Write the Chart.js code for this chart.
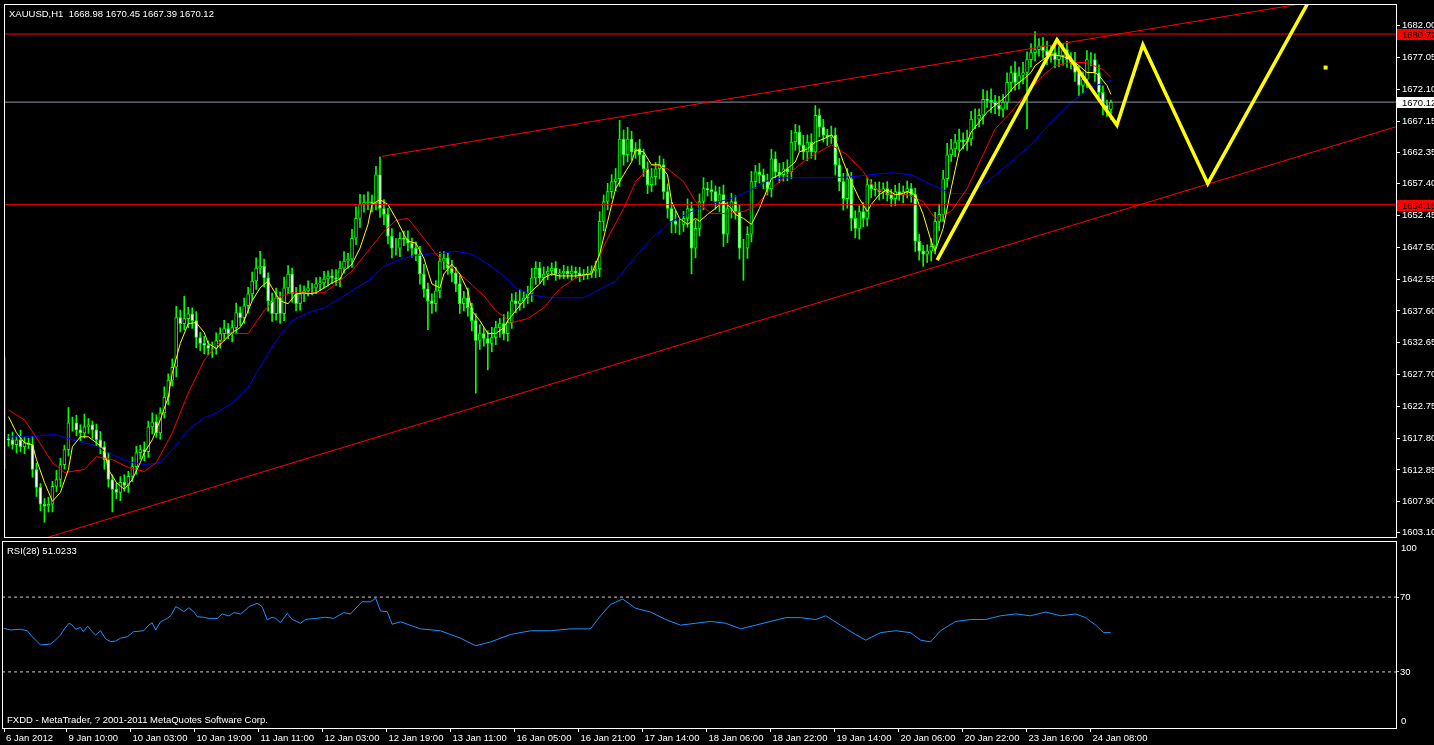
<!DOCTYPE html>
<html>
<head>
<meta charset="utf-8">
<script src="https://cdn.jsdelivr.net/npm/chart.js@4.4.0/dist/chart.umd.min.js"></script>
<style>
html, body { margin: 0; padding: 0; background: #000; overflow: hidden; }
#wrap { position: relative; width: 1434px; height: 745px; }
#priceBox { position: absolute; left: 0; top: 0; width: 1434px; height: 541px; }
#rsiBox { position: absolute; left: 0; top: 541px; width: 1434px; height: 204px; }
</style>
</head>
<body>
<div id="wrap">
  <div id="priceBox"><canvas id="priceChart"></canvas></div>
  <div id="rsiBox"><canvas id="rsiChart"></canvas></div>
</div>
<script>
// XAUUSD H1 - closes per bar, first entry is bar -1 (cut at the left edge)
const firstBar = -1;
const closes = [1617.60,
  1617.54,1616.77,1617.54,1616.46,1617.08,1616.77,1612.91,1610.12,1607.50,1607.19,
  1607.50,1610.28,1611.36,1613.68,1616.00,1620.17,1620.17,1619.09,1618.62,1619.55,
  1619.86,1619.09,1617.54,1616.46,1614.45,1611.36,1609.82,1609.35,1610.90,1610.43,
  1611.83,1613.37,1615.53,1616.00,1615.69,1619.55,1620.33,1618.62,1621.72,1624.19,
  1626.82,1628.83,1636.55,1635.63,1636.40,1637.17,1636.09,1633.46,1632.54,1632.23,
  1631.76,1631.76,1633.00,1634.08,1634.85,1634.08,1635.01,1637.33,1636.55,1638.41,
  1640.26,1642.27,1644.28,1644.59,1642.74,1639.18,1637.17,1639.65,1637.17,1641.19,
  1643.36,1640.26,1638.72,1640.26,1640.73,1641.19,1641.19,1641.81,1641.96,1642.58,
  1643.05,1642.74,1642.58,1644.28,1645.36,1645.67,1648.92,1652.01,1654.17,1654.48,
  1654.64,1654.33,1658.81,1653.56,1652.63,1649.23,1647.37,1647.37,1648.92,1648.77,
  1648.15,1647.37,1646.45,1643.36,1641.04,1639.18,1638.72,1640.73,1645.36,1645.83,
  1644.28,1643.51,1641.81,1638.72,1639.65,1638.10,1636.09,1633.00,1634.08,1633.31,
  1632.54,1633.46,1635.01,1635.63,1634.08,1635.78,1639.18,1638.72,1639.18,1639.65,
  1640.26,1642.74,1644.28,1642.74,1643.36,1643.82,1644.28,1643.36,1643.51,1643.82,
  1643.36,1643.82,1643.51,1643.05,1643.36,1643.51,1643.82,1644.13,1651.55,1654.64,
  1656.18,1657.73,1658.19,1664.38,1661.90,1664.38,1662.37,1662.83,1661.90,1659.74,
  1657.27,1658.50,1659.74,1660.36,1656.18,1653.56,1651.55,1651.08,1651.08,1652.01,
  1653.56,1647.37,1650.47,1654.64,1656.65,1656.49,1656.18,1654.64,1655.72,1649.54,
  1653.56,1654.64,1653.09,1647.37,1647.37,1649.54,1657.73,1659.27,1658.81,1657.73,
  1656.65,1661.28,1659.27,1658.81,1659.74,1659.27,1663.91,1665.46,1663.45,1662.37,
  1663.91,1662.37,1668.08,1666.23,1664.99,1664.68,1664.99,1660.36,1657.73,1655.10,
  1658.19,1652.01,1650.47,1653.09,1652.01,1657.27,1656.65,1656.49,1656.18,1656.65,
  1655.72,1655.10,1656.18,1655.72,1656.18,1656.65,1655.72,1648.46,1646.91,1646.45,
  1646.91,1647.68,1651.55,1652.63,1658.19,1661.90,1662.83,1663.91,1664.22,1663.91,
  1664.38,1667.47,1667.47,1668.08,1670.56,1670.40,1670.09,1669.63,1669.01,1670.09,
  1673.19,1674.73,1673.19,1674.27,1674.73,1676.74,1677.82,1678.29,1678.90,1678.13,
  1677.36,1677.82,1676.74,1677.36,1678.29,1676.74,1676.28,1674.73,1672.72,1673.65,
  1676.74,1676.74,1674.73,1671.64,1669.63,1668.98,1670.12];

// wick length above / below the body
const wickUp = [12.8,
  0.8,1.2,0.6,1.5,0.9,0.7,1.3,1.0,0.6,0.9,
  1.1,0.8,1.4,1.0,0.7,2.4,0.9,1.2,0.8,2.0,
  1.0,0.6,0.9,1.3,0.8,1.1,0.7,1.0,0.9,1.2,
  0.8,1.5,1.0,0.7,1.2,0.9,1.4,1.1,0.8,1.6,
  1.0,1.3,1.8,1.2,3.5,1.0,0.9,1.4,0.8,1.1,
  0.7,1.0,1.2,0.9,1.3,0.8,1.1,1.5,0.9,1.2,
  1.0,1.4,1.6,2.3,1.1,0.8,1.2,1.5,0.9,1.7,
  1.3,0.9,1.0,1.4,0.8,1.1,0.7,1.0,0.9,1.2,
  0.8,1.0,1.3,1.1,1.5,0.9,1.4,1.8,1.6,1.2,
  1.5,1.0,1.3,2.8,1.4,1.0,1.2,1.5,0.9,1.1,
  1.3,0.8,1.0,1.2,1.5,0.9,1.1,1.6,1.4,1.0,
  0.8,1.2,0.9,1.3,1.0,1.5,0.7,1.1,1.4,0.9,
  1.2,1.6,1.0,0.8,1.4,1.7,1.1,1.3,1.8,1.0,
  1.2,1.5,1.0,0.9,1.1,0.7,0.8,1.0,0.6,0.9,
  0.7,0.8,0.6,0.9,0.7,1.0,0.8,1.2,1.5,1.0,
  1.3,1.1,1.6,2.9,1.4,1.8,1.2,1.0,1.5,0.9,
  1.1,1.3,1.0,1.4,0.9,1.2,1.0,1.6,0.8,1.1,
  1.5,1.0,1.3,1.2,1.7,1.0,1.4,0.9,1.2,1.5,
  1.0,1.3,0.9,1.1,1.4,1.2,1.6,1.0,1.3,0.9,
  1.2,1.5,1.1,1.3,1.0,1.4,1.8,1.2,1.0,1.5,
  1.1,1.3,1.5,1.0,1.2,0.9,1.4,1.1,1.0,1.3,
  1.6,1.0,1.2,0.9,1.4,1.1,0.8,1.0,1.2,0.9,
  1.1,0.8,1.0,1.3,0.9,1.2,0.8,1.0,1.1,0.9,
  1.0,1.2,1.4,1.6,1.3,1.8,1.5,1.2,1.7,1.1,
  1.4,1.2,1.6,1.0,1.5,1.3,1.8,1.1,1.4,1.2,
  1.5,1.0,1.7,1.3,1.6,1.2,1.4,2.8,1.1,1.3,
  1.5,1.0,1.2,1.4,0.9,1.3,1.1,1.6,1.0,1.2,
  1.4,1.1,0.9,1.2,1.0,0.8,0.33];
const wickDown = [4.6,
  1.0,0.7,1.3,0.8,1.1,0.6,1.2,1.4,1.0,2.5,
  0.9,1.2,0.8,1.1,0.7,1.0,1.3,0.9,1.2,0.8,
  1.0,1.3,0.9,1.1,1.5,1.2,3.5,1.0,1.3,0.9,
  1.1,0.8,1.2,1.0,1.4,0.9,1.1,0.7,1.0,0.8,
  1.2,0.9,1.5,1.3,1.0,1.4,1.2,1.6,1.1,1.3,
  1.0,1.4,0.9,1.2,1.1,0.8,1.3,1.0,1.2,0.9,
  1.1,1.0,1.3,0.9,1.4,1.6,1.2,1.0,1.5,1.1,
  0.9,1.3,1.1,1.0,1.2,0.8,1.1,0.9,1.0,0.8,
  1.1,0.9,1.0,1.2,0.8,1.1,1.3,1.0,1.4,1.2,
  1.1,1.3,1.0,1.4,1.6,1.2,1.5,1.1,1.3,1.0,
  1.2,1.4,1.0,1.6,1.3,4.5,1.5,1.2,1.1,1.3,
  1.0,1.4,1.2,1.5,1.1,1.3,1.6,8.2,1.4,1.2,
  4.1,1.3,1.1,1.5,1.0,1.2,0.9,1.4,1.0,1.1,
  0.9,1.2,1.0,0.8,1.1,0.9,0.7,1.0,0.8,0.9,
  0.7,1.0,0.8,0.9,0.6,0.8,0.7,1.0,1.2,1.5,
  1.3,1.0,1.4,1.2,1.6,1.1,1.3,1.0,1.5,1.2,
  1.4,1.1,1.3,1.6,1.2,1.5,1.8,1.3,1.6,1.1,
  1.4,4.0,1.5,1.2,1.3,1.0,1.4,1.2,1.6,1.9,
  1.3,1.5,1.2,1.7,5.0,1.6,1.2,1.0,1.3,1.1,
  1.0,1.3,1.1,1.2,1.0,1.4,1.1,1.3,1.0,1.2,
  1.4,1.0,1.2,1.5,1.1,1.3,1.0,1.6,1.4,1.8,
  1.5,1.9,1.5,1.7,1.3,1.2,1.4,1.0,1.3,1.1,
  1.0,1.2,1.1,0.9,1.3,1.0,1.2,1.6,1.4,1.9,
  1.3,1.5,1.2,1.4,1.1,1.3,1.0,1.2,1.4,1.1,
  1.3,1.0,1.5,1.2,1.4,1.1,1.6,1.3,1.0,1.2,
  1.1,1.4,1.2,1.0,1.3,8.8,1.1,1.3,1.0,1.2,
  1.4,1.0,1.3,1.1,1.5,1.2,1.0,1.4,1.6,1.2,
  1.3,1.0,1.4,1.2,1.5,1.1,1.59];

// moving averages: [bar, price]
const fastMa = [[0,1621.15],[2,1618.62],[4,1617.08],[6,1616.77],[7,1614.45],[9,1610.90],[11,1607.96],[13,1609.35],[15,1612.91],[16,1616.46],
  [18,1618.01],[20,1618.01],[22,1617.08],[24,1616.00],[25,1612.91],[27,1610.90],[29,1609.82],[31,1611.36],[33,1613.99],[34,1615.53],
  [36,1617.54],[38,1620.64],[40,1624.19],[41,1627.90],[43,1632.54],[45,1635.63],[47,1635.78],[49,1634.24],[50,1632.54],[52,1631.76],
  [54,1633.00],[56,1634.24],[58,1635.01],[59,1636.09],[61,1639.18],[63,1641.19],[65,1642.27],[66,1641.19],[68,1639.18],[70,1638.72],
  [72,1640.26],[74,1640.42],[75,1640.26],[77,1640.42],[79,1641.19],[81,1641.96],[83,1642.58],[84,1643.82],[86,1644.90],[88,1647.37],
  [90,1651.08],[91,1654.17],[93,1654.95],[95,1654.17],[97,1652.01],[99,1649.54],[100,1648.46],[102,1648.15],[104,1645.83],[106,1641.81],
  [108,1641.19],[109,1643.36],[111,1644.90],[113,1643.36],[115,1640.73],[116,1637.64],[118,1636.09],[120,1634.08],[122,1634.08],[124,1635.01],
  [125,1636.09],[127,1637.64],[129,1639.18],[131,1640.73],[133,1641.81],[134,1642.74],[136,1643.36],[138,1643.05],[142,1643.05],[146,1643.36],
  [148,1646.45],[150,1651.55],[152,1656.65],[154,1658.81],[156,1660.82],[157,1662.68],[159,1662.37],[161,1660.36],[163,1660.36],[165,1658.81],
  [166,1654.64],[168,1652.01],[170,1651.08],[172,1652.01],[173,1651.55],[175,1652.63],[177,1653.56],[179,1654.64],[181,1653.56],[182,1652.63],
  [184,1652.01],[186,1651.08],[188,1653.56],[190,1656.65],[191,1658.19],[193,1658.81],[195,1659.74],[197,1660.82],[198,1662.37],[200,1662.83],
  [202,1663.91],[204,1664.38],[206,1664.99],[207,1664.38],[209,1660.82],[211,1657.73],[213,1655.10],[215,1653.09],[216,1654.17],[218,1655.72],
  [220,1656.49],[222,1655.72],[223,1655.72],[225,1656.18],[227,1655.72],[229,1652.63],[231,1648.46],[232,1646.91],[234,1650.47],[236,1656.65],
  [238,1662.37],[240,1663.91],[241,1665.46],[243,1667.00],[245,1668.55],[247,1669.63],[248,1670.09],[250,1671.18],[252,1672.72],[254,1673.65],
  [256,1674.73],[257,1675.81],[259,1676.74],[261,1677.51],[263,1677.36],[265,1677.05],[266,1676.74],[268,1675.81],[270,1674.73],[272,1674.73],
  [273,1674.27],[275,1672.72],[276,1671.33]];
const midMa = [[0,1622.18],[4,1620.64],[7,1617.85],[11,1614.00],[14,1612.44],[19,1612.91],[22,1614.92],[26,1614.45],[30,1613.22],[34,1612.60],
  [37,1613.99],[41,1618.62],[45,1624.81],[49,1629.91],[52,1632.23],[56,1634.08],[60,1634.08],[64,1637.64],[67,1639.65],[71,1640.42],
  [75,1640.42],[79,1640.42],[82,1641.81],[86,1643.82],[90,1646.91],[94,1650.00],[97,1651.70],[100,1652.01],[104,1648.92],[107,1646.45],
  [111,1644.28],[115,1642.27],[119,1639.96],[122,1637.64],[126,1635.78],[130,1636.40],[134,1638.10],[138,1641.04],[142,1642.74],[146,1643.51],
  [150,1648.92],[154,1653.56],[157,1657.73],[161,1660.36],[165,1659.74],[169,1657.73],[172,1654.64],[176,1652.79],[180,1652.79],[184,1653.09],
  [187,1653.87],[191,1656.65],[195,1658.81],[199,1660.82],[202,1662.06],[206,1663.45],[210,1661.90],[214,1659.27],[217,1656.65],[221,1655.72],
  [225,1655.72],[229,1654.64],[232,1652.01],[236,1653.09],[240,1656.65],[244,1661.90],[247,1665.92],[251,1668.55],[255,1671.64],[259,1674.27],
  [262,1675.81],[266,1676.28],[270,1676.28],[274,1675.20],[276,1673.96]];
const slowMa = [[0,1618.01],[6,1618.01],[10,1618.32],[12,1618.32],[16,1617.54],[21,1616.77],[26,1615.22],[30,1614.14],[34,1613.68],[38,1613.99],
  [41,1616.00],[45,1619.09],[49,1620.94],[52,1621.72],[56,1623.26],[60,1625.74],[64,1629.91],[67,1633.00],[71,1636.09],[75,1637.33],
  [79,1638.10],[82,1639.18],[86,1640.73],[90,1642.27],[94,1644.59],[97,1645.36],[101,1646.14],[105,1646.45],[109,1646.60],[112,1646.91],
  [116,1646.45],[120,1644.90],[124,1643.05],[127,1641.19],[131,1640.11],[135,1639.65],[138,1639.65],[144,1639.65],[152,1642.27],[156,1645.36],
  [161,1648.92],[166,1651.55],[171,1653.09],[176,1654.33],[181,1655.10],[186,1656.49],[191,1658.19],[196,1658.35],[201,1658.35],[206,1658.35],
  [211,1658.50],[216,1658.81],[221,1659.12],[226,1658.81],[231,1657.27],[236,1655.88],[241,1655.88],[246,1658.19],[251,1660.82],[256,1663.45],
  [261,1667.00],[266,1670.09],[271,1672.41],[276,1673.51]];

// RSI(28): [bar, value]
const rsiLine = [[-0.7,53.3],[1,52.4],[3.5,52.8],[5.2,52.0],[6.4,48.8],[7.7,46.2],[8.5,44.4],[11,44.9],[12.3,47.1],[13.5,49.7],
  [14.3,52.4],[15.6,56.0],[16.4,55.1],[17.3,52.8],[18.5,53.8],[19.2,51.5],[20.3,54.5],[21.4,51.5],[22.3,49.7],[23.5,52.0],
  [24.8,47.6],[26,46.2],[27.3,46.5],[28.5,48.0],[30.2,48.8],[31.8,51.5],[34.3,52.0],[35.6,55.1],[36.4,56.3],[37.3,52.4],
  [38.5,56.8],[40.2,58.6],[41.2,60.4],[42.3,64.9],[43.1,64.0],[44.3,62.2],[45.6,64.3],[46.8,62.2],[47.7,59.5],[49.3,59.2],
  [50.6,58.6],[52.7,58.6],[53.9,61.0],[55.6,59.9],[56.8,61.7],[58.5,61.0],[59.8,63.1],[60.6,64.9],[62.7,66.7],[63.9,64.9],
  [65.2,57.8],[66.4,59.2],[67.3,58.6],[68.5,56.3],[70.2,61.3],[71.4,58.1],[73.5,56.0],[74.8,58.1],[77.3,58.6],[79.8,59.2],
  [81.8,58.6],[84.3,61.7],[86,61.0],[87.7,64.9],[88.9,67.5],[91,67.5],[92.3,69.4],[93.5,62.6],[95.2,62.2],[96.4,55.5],
  [98.5,56.8],[103.5,53],[108.5,52],[113.5,48],[117.3,44],[121,46],[126,50],[131,52],[136,52],[141,53],
  [146,53],[148.5,60],[151,66],[154,69],[157.3,64],[161,62],[164.8,58],[168.5,55],[172.3,56],[176,57],
  [179.8,56],[183.5,53],[187.3,55],[191,57],[194.8,59],[198.5,59],[202.3,58],[204.8,60],[208.5,55],[212.3,50],
  [214.8,47],[218.5,51],[222.3,52],[226,51],[228.5,47],[231,46],[233.5,52],[237.3,57],[241,58],[244.8,58],
  [248.5,60],[252.3,61],[256,60],[259.8,62],[263.5,60],[267.3,61],[269.8,59],[272.3,55],[274.3,51],[276,51.02]];

// objects drawn on the chart: [bar, price]
const upperTrend = [[93.5,1661.67],[347.5,1687.9]];
const lowerTrend = [[10,1602.37],[347.5,1666.31]];
const zigzag = [[232.5,1645.52],[262.5,1679.83],[277.5,1666.54],[284,1679.06],[300.25,1657.42],[326,1686.32]];
const marker = [329.75,1675.5];
const levelLines = [1680.72, 1654.15];
const bidPrice = 1670.12;

const priceTicks = [1682.00,1677.05,1672.10,1667.15,1662.35,1657.40,1652.45,1647.50,1642.55,1637.60,1632.65,1627.70,1622.75,1617.80,1612.85,1607.90,1603.10];
const rsiTicks = [30, 70];
const rsiEnds = [100, 0];
const rsiLevels = [30, 70];
const timeTicks = [-0.6,15,31,47,63,79,95,111,127,143,159,175,191,207,223,239,255,271];
const timeLabels = ['6 Jan 2012','9 Jan 10:00','10 Jan 03:00','10 Jan 19:00','11 Jan 11:00','12 Jan 03:00','12 Jan 19:00','13 Jan 11:00',
  '16 Jan 05:00','16 Jan 21:00','17 Jan 14:00','18 Jan 06:00','18 Jan 22:00','19 Jan 14:00','20 Jan 06:00','20 Jan 22:00','23 Jan 16:00','24 Jan 08:00'];
const lastBar = [1668.98, 1670.45, 1667.39, 1670.12];
const rsiValue = 51.0233;

const xMin = -1.125, xMax = 347.375;
const axisFont = '9.5px "Liberation Sans"';
const title = 'XAUUSD,H1  ' + lastBar.map(v => v.toFixed(2)).join(' ');

// candle tables
let wickData = [], bodyData = [], bodyFill = [];
closes.forEach((c, j) => {
    let o = j > 0 ? closes[j - 1] : c;
    let bar = firstBar + j;
    wickData.push({x: bar, y: [Math.min(o, c) - wickDown[j], Math.max(o, c) + wickUp[j]]});
    bodyData.push({x: bar, y: [o, c]});
    bodyFill.push(c > o ? '#000000' : '#ffffff');
});

function pts(arr){
    return arr.map(p => ({x: p[0], y: p[1]}));
}
function flat(v){
    return [{x: xMin, y: v}, {x: xMax, y: v}];
}
function lineSet(data, color, width, order, extra){
    return Object.assign({type: 'line', data: data, borderColor: color, borderWidth: width,
        pointRadius: 0, tension: 0, order: order}, extra || {});
}

const frame = {
    id: 'frame',
    afterDraw(chart){
        let ctx = chart.ctx, a = chart.chartArea;
        ctx.save();
        ctx.strokeStyle = '#ffffff';
        ctx.lineWidth = 1;
        ctx.strokeRect(a.left + 0.5, a.top + 0.5, a.right - a.left, a.bottom - a.top);
        ctx.restore();
    }
};

const priceText = {
    id: 'priceText',
    afterDraw(chart){
        let ctx = chart.ctx, a = chart.chartArea, y = chart.scales.y;
        ctx.save();
        ctx.font = axisFont;
        ctx.textBaseline = 'middle';
        ctx.textAlign = 'left';
        let boxes = levelLines.map(v => [v, '#ff0000']);
        boxes.push([bidPrice, '#ffffff']);
        boxes.forEach(b => {
            let py = Math.round(y.getPixelForValue(b[0]));
            ctx.fillStyle = b[1];
            ctx.fillRect(a.right + 1, py - 5, chart.width - a.right - 1, 11);
            ctx.fillStyle = '#000000';
            ctx.fillText(b[0].toFixed(2), a.right + 6, py + 1);
        });
        ctx.fillStyle = '#ffffff';
        ctx.fillText(title, a.left + 5, a.top + 10);
        ctx.restore();
    }
};

const rsiText = {
    id: 'rsiText',
    afterDraw(chart){
        let ctx = chart.ctx, a = chart.chartArea, y = chart.scales.y;
        ctx.save();
        ctx.font = axisFont;
        ctx.fillStyle = '#ffffff';
        ctx.textAlign = 'left';
        ctx.textBaseline = 'middle';
        ctx.fillText('RSI(28) ' + rsiValue.toFixed(4), a.left + 5, a.top + 10);
        ctx.fillText('FXDD - MetaTrader, ? 2001-2011 MetaQuotes Software Corp.', a.left + 5, a.bottom - 8);
        ctx.fillText(String(rsiEnds[0]), a.right + 5, y.getPixelForValue(rsiEnds[0]) + 7);
        ctx.fillText(String(rsiEnds[1]), a.right + 5, y.getPixelForValue(rsiEnds[1]) - 7);
        ctx.restore();
    }
};

Chart.defaults.font.family = 'Liberation Sans';

new Chart(document.getElementById('priceChart'), {
    type: 'bar',
    data: {
        datasets: [
            lineSet(pts(zigzag), '#ffff00', 3.5, 0, {borderJoinStyle: 'miter', borderCapStyle: 'butt'}),
            lineSet([{x: marker[0], y: marker[1]}], '#ffff00', 0, 0, {showLine: false, pointRadius: 2.8, pointStyle: 'rect', pointBackgroundColor: '#ffff00', pointBorderWidth: 0}),
            lineSet(pts(upperTrend), '#ff0000', 1, 1),
            lineSet(pts(lowerTrend), '#ff0000', 1, 1),
            lineSet(flat(levelLines[0]), '#ff0000', 1, 1),
            lineSet(flat(levelLines[1]), '#ff0000', 1, 1),
            lineSet(flat(bidPrice), '#8c97a3', 1, 1),
            lineSet(pts(fastMa), '#ffff00', 1, 2),
            lineSet(pts(midMa), '#ff0000', 1, 2),
            lineSet(pts(slowMa), '#0000ff', 1, 2),
            {type: 'bar', data: bodyData, backgroundColor: bodyFill, borderColor: '#00ff00', borderWidth: 1,
             borderSkipped: false, barThickness: 3, grouped: false, order: 3},
            {type: 'bar', data: wickData, backgroundColor: '#00ff00', borderWidth: 0,
             barThickness: 1, grouped: false, order: 4}
        ]
    },
    options: {
        responsive: true,
        maintainAspectRatio: false,
        animation: false,
        events: [],
        layout: {padding: {left: 2, top: 1, right: 0, bottom: 3}},
        plugins: {legend: {display: false}, tooltip: {enabled: false}},
        scales: {
            x: {type: 'linear', min: xMin, max: xMax, offset: false, display: false},
            y: {
                position: 'right', min: 1602.4, max: 1685.4, bounds: 'data',
                afterBuildTicks: s => { s.ticks = priceTicks.map(v => ({value: v})); },
                afterFit: s => { s.width = 38; s.paddingTop = 0; s.paddingBottom = 0; },
                ticks: {color: '#ffffff', font: {size: 9.5}, padding: 2, callback: v => v.toFixed(2)},
                grid: {drawOnChartArea: false, drawTicks: true, tickLength: 4, color: '#ffffff'},
                border: {display: false}
            }
        }
    },
    plugins: [frame, priceText]
});

new Chart(document.getElementById('rsiChart'), {
    type: 'line',
    data: {
        datasets: [
            lineSet(pts(rsiLine), '#1e90ff', 1, 0),
            lineSet(flat(rsiLevels[0]), '#c8c8c8', 1, 1, {borderDash: [3, 3]}),
            lineSet(flat(rsiLevels[1]), '#c8c8c8', 1, 1, {borderDash: [3, 3]})
        ]
    },
    options: {
        responsive: true,
        maintainAspectRatio: false,
        animation: false,
        events: [],
        layout: {padding: {left: 2, top: 0, right: 0, bottom: 0}},
        plugins: {legend: {display: false}, tooltip: {enabled: false}},
        scales: {
            x: {
                type: 'linear', min: xMin, max: xMax, offset: false, position: 'bottom',
                afterBuildTicks: s => { s.ticks = timeTicks.map(v => ({value: v})); },
                afterFit: s => { s.height = 17; s.paddingLeft = 0; s.paddingRight = 0; },
                ticks: {color: '#ffffff', font: {size: 9.5}, align: 'start', labelOffset: 2, autoSkip: false,
                        maxRotation: 0, padding: 1, callback: (v, i) => timeLabels[i]},
                grid: {drawOnChartArea: false, drawTicks: true, tickLength: 4, color: '#ffffff'},
                border: {display: false}
            },
            y: {
                position: 'right', min: 0, max: 100,
                afterBuildTicks: s => { s.ticks = rsiTicks.map(v => ({value: v})); },
                afterFit: s => { s.width = 38; s.paddingTop = 0; s.paddingBottom = 0; },
                ticks: {color: '#ffffff', font: {size: 9.5}, padding: 1},
                grid: {drawOnChartArea: false, drawTicks: true, tickLength: 3, color: '#c8c8c8'},
                border: {display: false}
            }
        }
    },
    plugins: [frame, rsiText]
});
</script>
</body>
</html>
